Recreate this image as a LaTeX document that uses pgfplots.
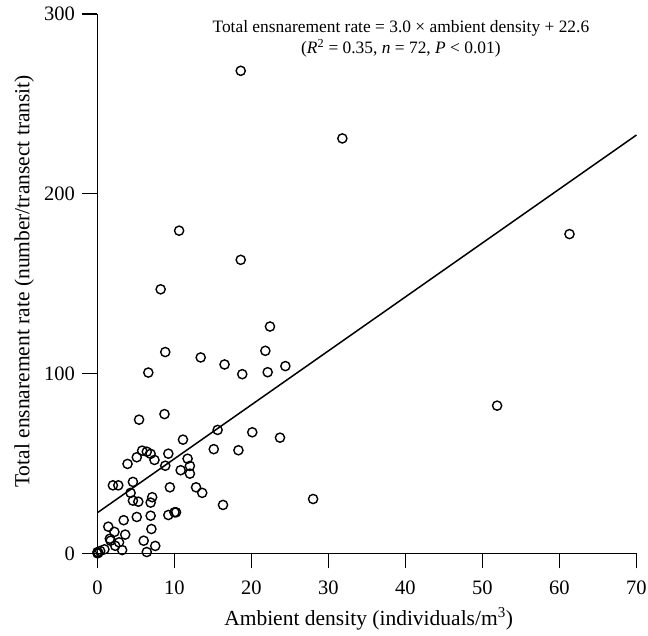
\documentclass[border=0pt]{standalone}
\usepackage{fontspec}
\setmainfont{Liberation Serif}
\usepackage{pgfplots}
\pgfplotsset{compat=1.18}
\begin{document}
\begin{tikzpicture}
\begin{axis}[
  scale only axis, width=539pt, height=539.5pt,
  xmin=0, xmax=70, ymin=0, ymax=300,
  axis lines=left, axis line style={-, line width=1.6pt},
  xtick={0,10,...,70}, ytick={0,100,200,300},
  tick align=outside, major tick length=15pt,
  tick style={line width=1.6pt, black},
  /pgf/number format/assume math mode=true,
  ticklabel style={font=\fontsize{20.5}{24}\selectfont},
  xticklabel style={yshift=-9pt},
  yticklabel style={xshift=-4pt},
  xlabel={Ambient density (individuals/m\textsuperscript{3})},
  ylabel={Total ensnarement rate (number/transect transit)},
  label style={font=\fontsize{21.5}{25}\selectfont},
  xlabel style={at={(axis description cs:0.503,-0.121)}, anchor=center},
  ylabel style={at={(axis description cs:-0.136,0.504)}, anchor=center},
  clip=false,
]
\addplot[only marks, mark=o, mark size=4.6pt, mark options={line width=1.4pt, black}] coordinates {
(18.6,268.3) (31.8,230.7) (10.6,179.4) (18.6,163.2) (8.2,146.8) (61.3,177.5) (51.9,82.1)
(22.4,126.1) (8.8,111.9) (13.4,108.9) (16.5,105.0) (21.8,112.6) (18.8,99.6) (22.1,100.7)
(24.4,104.1) (6.6,100.5) (5.4,74.3) (8.7,77.4) (15.6,68.6) (20.1,67.3) (23.7,64.3)
(11.1,63.2) (15.1,57.9) (18.3,57.3) (5.8,57.1) (6.4,56.5) (6.9,55.3) (9.2,55.4)
(5.1,53.4) (7.4,51.9) (3.9,49.7) (11.7,52.6) (8.8,48.7) (12.0,48.6) (10.8,46.2)
(12.0,44.3) (4.6,39.7) (2.0,37.8) (2.7,37.8) (9.4,36.7) (12.8,36.7) (13.6,33.6)
(4.3,33.6) (7.1,31.2) (4.6,29.3) (5.3,28.7) (6.9,28.2) (16.3,26.9) (5.1,20.2)
(6.9,20.9) (9.2,21.3) (10.0,22.8) (10.2,22.8) (3.4,18.4) (1.4,14.8) (2.2,11.9)
(7.0,13.5) (3.6,10.4) (1.6,8.1) (1.7,7.0) (2.8,6.1) (6.0,7.0) (7.5,4.1)
(2.3,4.2) (3.2,1.8) (6.4,0.7) (0,0.7) (0.35,1.3) (0.9,2.2) (28.0,30.2)
(0,0) (0.1,0.3)
};
\addplot[line width=1.5pt, black] coordinates {(0,22.6) (70,232.6)};
\node[font=\fontsize{17.4}{20.5}\selectfont, align=center, anchor=center] at (axis cs:39.4,286)
  {Total ensnarement rate = 3.0 × ambient density + 22.6\\
   (\textit{R}\textsuperscript{2} = 0.35, \textit{n} = 72, \textit{P} < 0.01)};
\end{axis}
\pgfresetboundingbox
\path[use as bounding box] (-97.5pt,-81.7pt) rectangle (550.5pt,553.3pt);
\end{tikzpicture}
\end{document}
